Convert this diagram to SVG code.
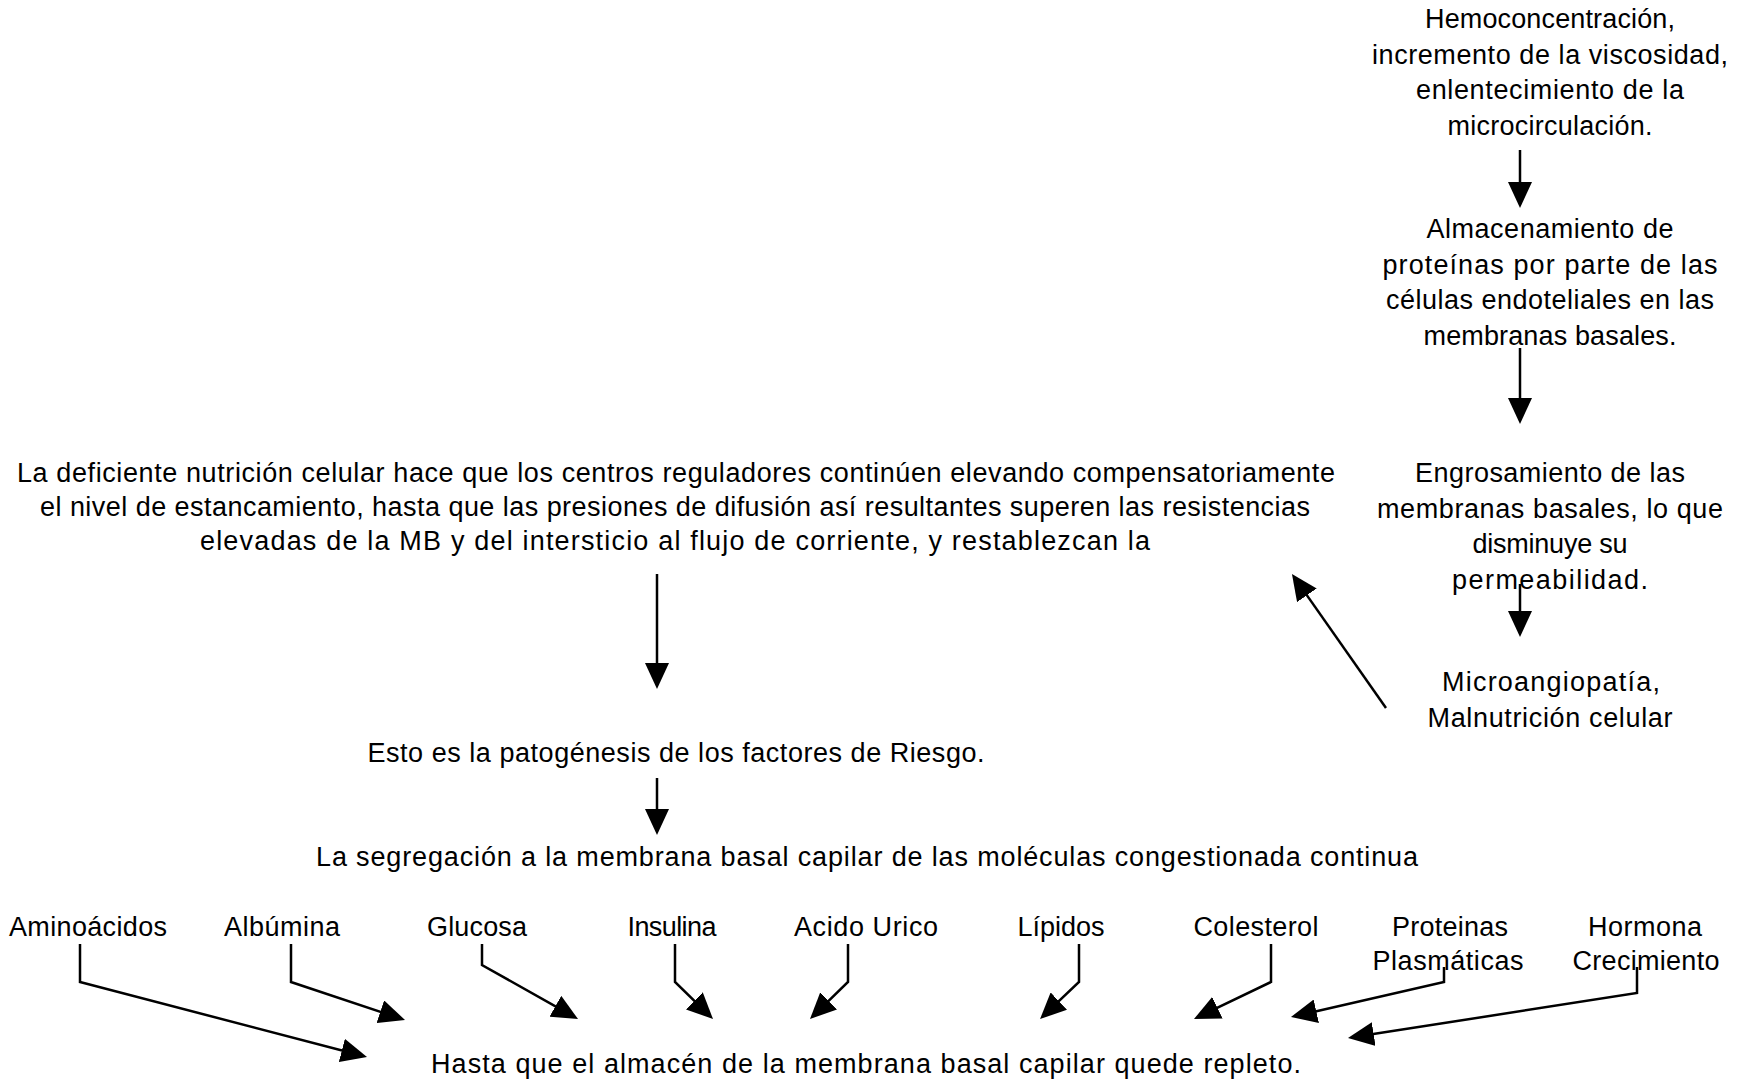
<svg xmlns="http://www.w3.org/2000/svg" width="1747" height="1082" viewBox="0 0 1747 1082">
<style>
.t{font-family:"Liberation Sans",Arial,sans-serif;font-size:27px;fill:#000;text-anchor:middle}
.c{fill:none;stroke:#000;stroke-width:2.5;marker-end:url(#ah)}
</style>
<defs>
<marker id="ah" viewBox="0 0 26 24" refX="20" refY="12" markerWidth="26" markerHeight="24" markerUnits="userSpaceOnUse" orient="auto">
<path d="M0,0 L26,12 L0,24 Z" fill="#000"/>
</marker>
</defs>
<rect width="1747" height="1082" fill="#fff"/>
<g id="n-hemo" class="t">
<text x="1550" y="28" textLength="250">Hemoconcentración,</text>
<text x="1550" y="63.5" textLength="356">incremento de la viscosidad,</text>
<text x="1550" y="99" textLength="268">enlentecimiento de la</text>
<text x="1550" y="134.5" textLength="205">microcirculación.</text>
</g>
<g id="n-almac" class="t">
<text x="1550" y="238" textLength="247">Almacenamiento de</text>
<text x="1550" y="273.5" textLength="335">proteínas por parte de las</text>
<text x="1550" y="309" textLength="328">células endoteliales en las</text>
<text x="1550" y="344.5" textLength="253">membranas basales.</text>
</g>
<g id="n-engros" class="t">
<text x="1550" y="482" textLength="270">Engrosamiento de las</text>
<text x="1550" y="517.5" textLength="346">membranas basales, lo que</text>
<text x="1550" y="553" textLength="155">disminuye su</text>
<text x="1550" y="588.5" textLength="196">permeabilidad.</text>
</g>
<g id="n-micro" class="t">
<text x="1551" y="691" textLength="218">Microangiopatía,</text>
<text x="1550" y="726.5" textLength="245">Malnutrición celular</text>
</g>
<g id="n-deficiente" class="t">
<text x="676" y="482" textLength="1318">La deficiente nutrición celular hace que los centros reguladores continúen elevando compensatoriamente</text>
<text x="675" y="516" textLength="1270">el nivel de estancamiento, hasta que las presiones de difusión así resultantes superen las resistencias</text>
<text x="675" y="550" textLength="950">elevadas de la MB y del intersticio al flujo de corriente, y restablezcan la</text>
</g>
<g id="n-esto" class="t">
<text x="676" y="762" textLength="617">Esto es la patogénesis de los factores de Riesgo.</text>
</g>
<g id="n-segregacion" class="t">
<text x="867" y="866" textLength="1102">La segregación a la membrana basal capilar de las moléculas congestionada continua</text>
</g>
<g id="n-aminoacidos" class="t"><text x="88" y="936" textLength="158">Aminoácidos</text></g>
<g id="n-albumina" class="t"><text x="282" y="936" textLength="116">Albúmina</text></g>
<g id="n-glucosa" class="t"><text x="477" y="936" textLength="100">Glucosa</text></g>
<g id="n-insulina" class="t"><text x="672" y="936" textLength="89">Insulina</text></g>
<g id="n-acido" class="t"><text x="866" y="936" textLength="144">Acido Urico</text></g>
<g id="n-lipidos" class="t"><text x="1061" y="936" textLength="87">Lípidos</text></g>
<g id="n-colesterol" class="t"><text x="1256" y="936" textLength="125">Colesterol</text></g>
<g id="n-proteinas" class="t">
<text x="1450" y="936" textLength="116">Proteinas</text>
<text x="1448" y="970" textLength="151">Plasmáticas</text>
</g>
<g id="n-hormona" class="t">
<text x="1645" y="936" textLength="114">Hormona</text>
<text x="1646" y="970" textLength="147">Crecimiento</text>
</g>
<g id="n-hasta" class="t">
<text x="866" y="1073" textLength="870">Hasta que el almacén de la membrana basal capilar quede repleto.</text>
</g>
<g id="connectors">
<path class="c" d="M1520,150 L1520,202"/>
<path class="c" d="M1520,348 L1520,418"/>
<path class="c" d="M1520,584 L1520,631"/>
<path class="c" d="M1386,708 L1295.4,578.9"/>
<path class="c" d="M657,574 L657,683"/>
<path class="c" d="M657,778 L657,829"/>
<path class="c" d="M80,944 L80,982 L361.2,1055.5"/>
<path class="c" d="M291,944 L291,982 L399.3,1018.1"/>
<path class="c" d="M482,944 L482,965 L572.8,1016.1"/>
<path class="c" d="M675,944 L675,982 L708.7,1014.8"/>
<path class="c" d="M848,944 L848,982 L814.3,1014.8"/>
<path class="c" d="M1079,944 L1079,982 L1044.4,1014.9"/>
<path class="c" d="M1271,944 L1271,982 L1199.4,1016.4"/>
<path class="c" d="M1444,967 L1444,982 L1296.8,1015.7"/>
<path class="c" d="M1637,967 L1637,993 L1353.9,1037.1"/>
</g>
</svg>
